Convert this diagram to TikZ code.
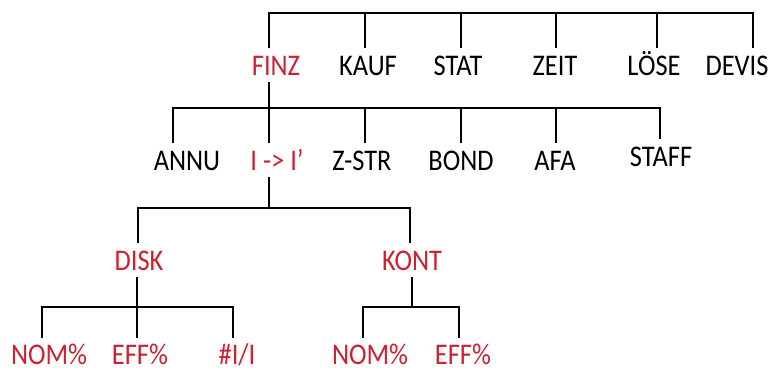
\documentclass[tikz,border=0pt]{standalone}
\usepackage{fontspec}
\setmainfont[FakeStretch=0.88]{Carlito}
\usepackage{tikz}
\usepackage{xcolor}
\definecolor{keyred}{RGB}{205,32,48}

\begin{document}
\begin{tikzpicture}[x=1pt,y=-1pt]
\tikzstyle{menu}=[font=\fontsize{30}{32}\selectfont,anchor=base,inner xsep=0pt,inner ysep=7pt,text height=20pt,text depth=0pt]
\tikzstyle{key}=[menu,text=keyred]
\tikzstyle{leaf}=[key,inner ysep=0pt,text height=26pt]
\tikzstyle{conn}=[line width=2.2pt,black]
\useasboundingbox (0,0) rectangle (768,370);
% top row
\node[key] (finz) at (276,75) {FINZ};
\node[menu] (kauf) at (368,75) {KAUF};
\node[menu] (stat) at (458,75) {STAT};
\node[menu] (zeit) at (555,75) {ZEIT};
\node[menu] (loese) at (654,75) {LÖSE};
\node[menu] (devis) at (737,75) {DEVIS};
\coordinate (ta) at (269,13);
\coordinate (tb) at (365,13);
\coordinate (tc) at (461,13);
\coordinate (td) at (556,13);
\coordinate (te) at (657,13);
\coordinate (tf) at (753,13);
\draw[conn] (ta |- finz.north) -- (ta) -- (tf) -- (tf |- devis.north);
\draw[conn] (tb) -- (tb |- kauf.north);
\draw[conn] (tc) -- (tc |- stat.north);
\draw[conn] (td) -- (td |- zeit.north);
\draw[conn] (te) -- (te |- loese.north);
% FINZ menu
\node[menu] (annu) at (187,170) {ANNU};
\node[key] (itoi) at (277,170) {I -> I’};
\node[menu] (zstr) at (362,170) {Z-STR};
\node[menu] (bond) at (461,170) {BOND};
\node[menu] (afa) at (555,170) {AFA};
\node[menu] (staff) at (661,166) {STAFF};
\coordinate (fa) at (173,108);
\coordinate (fb) at (269,108);
\coordinate (fc) at (365,108);
\coordinate (fd) at (461,108);
\coordinate (fe) at (556,108);
\coordinate (ff) at (660,108);
\draw[conn] (fb |- finz.south) -- (fb);
\draw[conn] (fa |- annu.north) -- (fa) -- (ff) -- (ff |- staff.north);
\draw[conn] (fb) -- (fb |- itoi.north);
\draw[conn] (fc) -- (fc |- zstr.north);
\draw[conn] (fd) -- (fd |- bond.north);
\draw[conn] (fe) -- (fe |- afa.north);
% I -> I' menu
\node[key] (disk) at (139,270) {DISK};
\node[key] (kont) at (412,270) {KONT};
\coordinate (ia) at (138,208);
\coordinate (ib) at (269,208);
\coordinate (ic) at (410,208);
\draw[conn] (ib |- itoi.south) -- (ib);
\draw[conn] (ia |- disk.north) -- (ia) -- (ic) -- (ic |- kont.north);
% DISK and KONT menus
\node[leaf] (dnom) at (49,364) {NOM\%};
\node[leaf] (deff) at (140,364) {EFF\%};
\node[leaf] (dii) at (237,364) {\#I/I};
\node[leaf] (knom) at (370,364) {NOM\%};
\node[leaf] (keff) at (463,364) {EFF\%};
\coordinate (da) at (42,307);
\coordinate (db) at (137,307);
\coordinate (dc) at (233,307);
\coordinate (ka) at (363,307);
\coordinate (kb) at (412,307);
\coordinate (kc) at (459,307);
\draw[conn] (db |- disk.south) -- (db) -- (db |- deff.north);
\draw[conn] (da |- dnom.north) -- (da) -- (dc) -- (dc |- dii.north);
\draw[conn] (kb |- kont.south) -- (kb);
\draw[conn] (ka |- knom.north) -- (ka) -- (kc) -- (kc |- keff.north);
\end{tikzpicture}
\end{document}
